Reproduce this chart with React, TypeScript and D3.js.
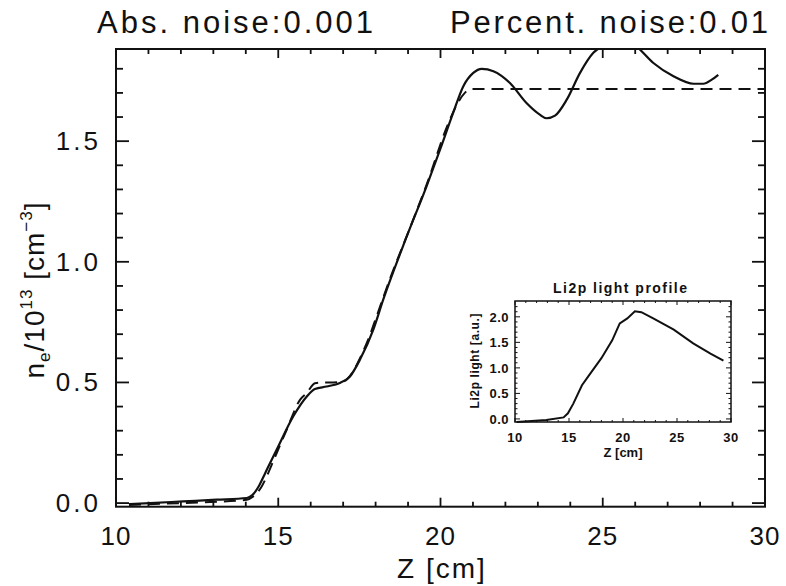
import React from "react";
import * as d3 from "d3";

// ---- data ----
const titleLeft = "Abs. noise:0.001";
const titleRight = "Percent. noise:0.01";

const solidZ = [10.4, 11.05, 12.07, 13.1, 14.03, 14.2, 14.4, 14.6, 14.95, 15.46, 15.88, 16.13, 16.49, 16.9, 17.21, 17.52, 17.93, 18.24, 18.96, 19.57, 20.0, 20.39, 20.7, 21.01, 21.27, 21.63, 22.14, 22.65, 23.06, 23.27, 23.53, 23.89, 24.3, 24.71, 24.97, 25.5, 26.04, 26.56, 27.18, 27.8, 28.1, 28.36, 28.56];
const solidNe = [-0.004, 0.0, 0.007, 0.014, 0.021, 0.033, 0.07, 0.125, 0.221, 0.359, 0.442, 0.473, 0.483, 0.498, 0.525, 0.595, 0.719, 0.845, 1.105, 1.313, 1.47, 1.617, 1.727, 1.783, 1.8, 1.79, 1.741, 1.658, 1.61, 1.595, 1.606, 1.672, 1.783, 1.866, 1.893, 1.94, 1.893, 1.824, 1.769, 1.738, 1.738, 1.755, 1.775];

const dashZ = [10.4, 11.0, 12.0, 12.9, 14.03, 14.23, 14.49, 14.69, 14.8, 15.26, 15.67, 15.88, 16.13, 16.39, 16.7, 17.0, 17.31, 17.52, 17.77, 18.03, 18.5, 19.0, 19.6, 20.2, 20.5, 20.75, 20.96, 30.0];
const dashNe = [-0.008, -0.005, 0.0, 0.004, 0.014, 0.027, 0.069, 0.124, 0.159, 0.304, 0.428, 0.456, 0.497, 0.5, 0.5, 0.504, 0.546, 0.601, 0.677, 0.774, 0.95, 1.12, 1.33, 1.56, 1.65, 1.7, 1.716, 1.716];

const insetZ = [10.15, 12.9, 14.5, 14.9, 15.4, 16.2, 16.8, 18.0, 19.0, 19.7, 20.4, 21.1, 21.7, 22.8, 24.7, 26.5, 28.1, 29.3];
const insetLight = [-0.06, -0.02, 0.03, 0.11, 0.3, 0.66, 0.84, 1.19, 1.54, 1.87, 1.97, 2.11, 2.09, 1.97, 1.75, 1.48, 1.28, 1.14];

const xMajor = [10, 15, 20, 25, 30];
const yMajor = [0.0, 0.5, 1.0, 1.5];
const insetYMajor = [0.0, 0.5, 1.0, 1.5, 2.0];

const FONT = "'Liberation Sans', Arial, Helvetica, sans-serif";

export default function App() {
  const W = 786, H = 586;
  const L = 116, R = 765, T = 49, B = 506.7;
  const x = d3.scaleLinear().domain([10, 30]).range([L, R]);
  const y = d3.scaleLinear().domain([-0.015, 1.882]).range([B, T]);

  const line = d3.line<[number, number]>().x(d => x(d[0])).y(d => y(d[1])).curve(d3.curveMonotoneX);
  const solidPath = line(solidZ.map((z, i) => [z, solidNe[i]] as [number, number])) || "";
  const dashPath = line(dashZ.map((z, i) => [z, dashNe[i]] as [number, number])) || "";

  const xMinor = d3.range(10, 30.001, 1);
  const yMinor = d3.range(0, 1.8501, 0.1);

  // inset
  const iL = 515, iR = 731, iT = 301, iB = 422;
  const ix = d3.scaleLinear().domain([10, 30]).range([iL, iR]);
  const iy = d3.scaleLinear().domain([-0.06, 2.31]).range([iB, iT]);
  const iline = d3.line<[number, number]>().x(d => ix(d[0])).y(d => iy(d[1]));
  const insetPath = iline(insetZ.map((z, i) => [z, insetLight[i]] as [number, number])) || "";
  const ixMinor = d3.range(10, 30.001, 1);
  const iyMinor = d3.range(0, 2.3, 0.1);

  const fmt = d3.format(".1f");

  return (
    <svg width={W} height={H} style={{ position: "absolute", left: 0, top: 0, background: "#fff" }} fontFamily={FONT}>
      <rect x={0} y={0} width={W} height={H} fill="#fff" />
      <defs>
        <clipPath id="mainclip">
          <rect x={L} y={T} width={R - L} height={B - T} />
        </clipPath>
      </defs>

      {/* titles */}
      <text x={97} y={33} fontSize={31} textLength={276} lengthAdjust="spacing" fill="#111">{titleLeft}</text>
      <text x={450} y={33} fontSize={31} textLength={318} lengthAdjust="spacing" fill="#111">{titleRight}</text>

      {/* data */}
      <g clipPath="url(#mainclip)">
        <path d={dashPath} fill="none" stroke="#111" strokeWidth={2} strokeDasharray="12,7" />
        <path d={solidPath} fill="none" stroke="#111" strokeWidth={2.2} />
      </g>

      {/* frame */}
      <rect x={L} y={T} width={R - L} height={B - T} fill="none" stroke="#111" strokeWidth={2} />

      {/* x ticks */}
      {xMinor.map(v => {
        const major = Math.abs(v % 5) < 1e-6;
        const len = major ? 9 : 5;
        return (
          <g key={"xt" + v}>
            <line x1={x(v)} x2={x(v)} y1={B} y2={B - len} stroke="#111" strokeWidth={1.8} />
            <line x1={x(v)} x2={x(v)} y1={T} y2={T + len} stroke="#111" strokeWidth={1.8} />
          </g>
        );
      })}
      {yMinor.map(v => {
        const major = Math.abs((v * 10) % 5) < 1e-6 || Math.abs((v * 10) % 5 - 5) < 1e-6;
        const len = major ? 13 : 7;
        return (
          <g key={"yt" + v.toFixed(2)}>
            <line x1={L} x2={L + len} y1={y(v)} y2={y(v)} stroke="#111" strokeWidth={1.8} />
            <line x1={R} x2={R - len} y1={y(v)} y2={y(v)} stroke="#111" strokeWidth={1.8} />
          </g>
        );
      })}

      {/* tick labels */}
      {xMajor.map(v => (
        <text key={"xl" + v} x={x(v)} y={545} fontSize={26} textAnchor="middle" fill="#111" letterSpacing={1}>{v}</text>
      ))}
      {yMajor.map(v => (
        <text key={"yl" + v} x={101} y={y(v) + 9} fontSize={26} textAnchor="end" fill="#111" letterSpacing={3}>{fmt(v)}</text>
      ))}

      {/* axis titles */}
      <text x={442} y={578} fontSize={28} textAnchor="middle" fill="#111" letterSpacing={2}>Z [cm]</text>
      <text transform={`translate(44, 290) rotate(-90)`} fontSize={28} textAnchor="middle" fill="#111" letterSpacing={1}>
        n<tspan fontSize={17} dy={6}>e</tspan><tspan dy={-6}>/10</tspan><tspan fontSize={17} dy={-12}>13</tspan><tspan dy={12}> [cm</tspan><tspan fontSize={17} dy={-12}>−3</tspan><tspan dy={12}>]</tspan>
      </text>

      {/* inset */}
      <g fontWeight="bold">
        <rect x={iL} y={iT} width={iR - iL} height={iB - iT} fill="#fff" stroke="#111" strokeWidth={1.5} />
        <path d={insetPath} fill="none" stroke="#111" strokeWidth={2} />
        {ixMinor.map(v => {
          const major = Math.abs(v % 5) < 1e-6;
          const len = major ? 4 : 2;
          return (
            <g key={"ixt" + v}>
              <line x1={ix(v)} x2={ix(v)} y1={iB} y2={iB - len} stroke="#111" strokeWidth={1} />
              <line x1={ix(v)} x2={ix(v)} y1={iT} y2={iT + len} stroke="#111" strokeWidth={1} />
            </g>
          );
        })}
        {iyMinor.map(v => {
          const r = Math.round(v * 10);
          const major = r % 5 === 0;
          const len = major ? 5 : 2.5;
          return (
            <g key={"iyt" + r}>
              <line x1={iL} x2={iL + len} y1={iy(v)} y2={iy(v)} stroke="#111" strokeWidth={1} />
              <line x1={iR} x2={iR - len} y1={iy(v)} y2={iy(v)} stroke="#111" strokeWidth={1} />
            </g>
          );
        })}
        {xMajor.map(v => (
          <text key={"ixl" + v} x={ix(v)} y={442} fontSize={13} textAnchor="middle" fill="#111" letterSpacing={0.5}>{v}</text>
        ))}
        {insetYMajor.map(v => (
          <text key={"iyl" + v} x={509} y={iy(v) + 5} fontSize={13} textAnchor="end" fill="#111" letterSpacing={0.5}>{fmt(v)}</text>
        ))}
        <text x={623} y={457} fontSize={13} textAnchor="middle" fill="#111">Z [cm]</text>
        <text transform={`translate(479, 361) rotate(-90)`} fontSize={12} textAnchor="middle" fill="#111" textLength={95} lengthAdjust="spacing">Li2p light [a.u.]</text>
        <text x={553} y={293} fontSize={14} fill="#111" textLength={134} lengthAdjust="spacing">Li2p light profile</text>
      </g>
    </svg>
  );
}
